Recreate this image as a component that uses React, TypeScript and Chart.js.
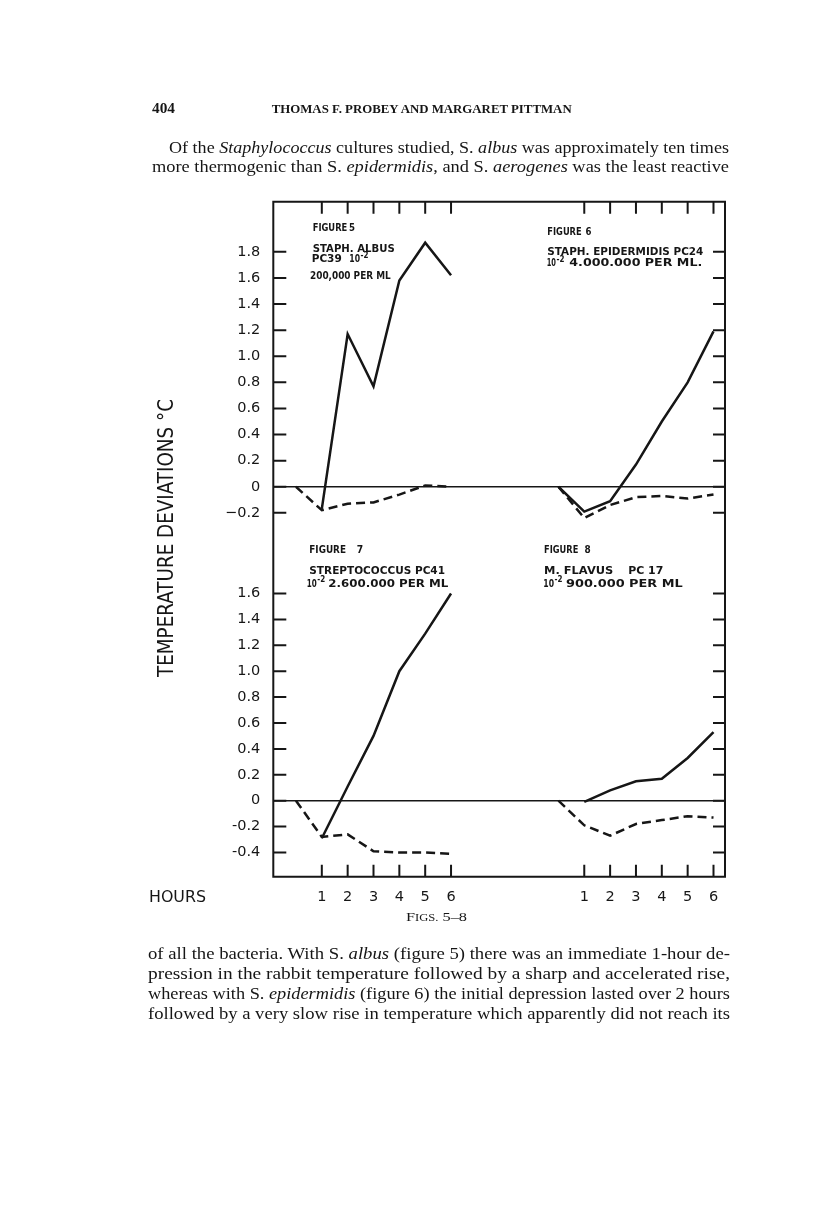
import React, { useEffect, useRef } from 'react';
import { Chart, registerables } from 'chart.js';

Chart.register(...registerables);

const INK = '#161616';

// ---- data (hours after injection, temperature deviation °C) ----
const HOURS = [0, 1, 2, 3, 4, 5, 6];
const TICK_HOURS = [1, 2, 3, 4, 5, 6];
const HOUR_LABELS = ['1', '2', '3', '4', '5', '6'];

// Figure 5 — Staph. albus PC39
const FIG5_SOLID = [null, -0.17, 1.17, 0.77, 1.58, 1.87, 1.62];
const FIG5_DASHED = [0, -0.18, -0.13, -0.12, -0.06, 0.01, 0.0];
// Figure 6 — Staph. epidermidis PC24
const FIG6_SOLID = [0, -0.19, -0.11, 0.17, 0.5, 0.8, 1.19];
const FIG6_DASHED = [0, -0.24, -0.14, -0.08, -0.07, -0.09, -0.06];
// Figure 7 — Streptococcus PC41
const FIG7_SOLID = [null, -0.29, 0.11, 0.5, 1.0, 1.29, 1.6];
const FIG7_DASHED = [0, -0.28, -0.26, -0.39, -0.4, -0.4, -0.41];
// Figure 8 — M. flavus PC17
const FIG8_SOLID = [null, -0.01, 0.08, 0.15, 0.17, 0.33, 0.53];
const FIG8_DASHED = [0, -0.19, -0.27, -0.18, -0.15, -0.12, -0.13];

const TOP_Y_TICKS = [-0.2, 0, 0.2, 0.4, 0.6, 0.8, 1.0, 1.2, 1.4, 1.6, 1.8];
const TOP_Y_LABELS = ['−0.2', '0', '0.2', '0.4', '0.6', '0.8', '1.0', '1.2', '1.4', '1.6', '1.8'];
const BOTTOM_Y_TICKS = [-0.4, -0.2, 0, 0.2, 0.4, 0.6, 0.8, 1.0, 1.2, 1.4, 1.6];
const BOTTOM_Y_LABELS = ['-0.4', '-0.2', '0', '0.2', '0.4', '0.6', '0.8', '1.0', '1.2', '1.4', '1.6'];

// ---- layout ----
const RIGHT_OFFSET = 10.155; // right-hand figures share the hour axis, shifted
const X_MIN = -0.877;
const X_MAX = 16.6;
const X_TICKS = [...TICK_HOURS, ...TICK_HOURS.map((h) => h + RIGHT_OFFSET)];
const X_TICK_LABELS = [...HOUR_LABELS, ...HOUR_LABELS];
const Y_AXIS_WIDTH = 73.3;

type Series = { values: (number | null)[]; dashed: boolean; right: boolean };

const TOP_PANEL = {
  box: { left: 200, top: 171, width: 540, height: 399 },
  padding: { top: 30.7, right: 15, bottom: 30, left: 0 },
  yMin: -0.408,
  yMax: 2.184,
  yTicks: TOP_Y_TICKS,
  yLabels: TOP_Y_LABELS,
  edge: 'top',
  xAxisHeight: 0,
  series: [
    { values: FIG5_SOLID, dashed: false, right: false },
    { values: FIG5_DASHED, dashed: true, right: false },
    { values: FIG6_SOLID, dashed: false, right: true },
    { values: FIG6_DASHED, dashed: true, right: true },
  ] as Series[],
};

const BOTTOM_PANEL = {
  box: { left: 200, top: 510, width: 540, height: 420 },
  padding: { top: 30, right: 15, bottom: 0, left: 0 },
  yMin: -0.587,
  yMax: 2.013,
  yTicks: BOTTOM_Y_TICKS,
  yLabels: BOTTOM_Y_LABELS,
  edge: 'bottom',
  xAxisHeight: 53.3,
  series: [
    { values: FIG7_SOLID, dashed: false, right: false },
    { values: FIG7_DASHED, dashed: true, right: false },
    { values: FIG8_SOLID, dashed: false, right: true },
    { values: FIG8_DASHED, dashed: true, right: true },
  ] as Series[],
};

function Panel(props: any) {
  const { box, padding, yMin, yMax, yTicks, yLabels, edge, xAxisHeight, series } = props;
  const ref = useRef<HTMLCanvasElement>(null);

  useEffect(() => {
    const canvas = ref.current;
    if (!canvas) return;
    const showX = edge === 'bottom';

    const frame = {
      id: 'frame',
      afterDatasetsDraw(chart: any) {
        const { ctx, chartArea: a, scales } = chart;
        ctx.save();
        ctx.strokeStyle = INK;
        ctx.lineWidth = 2;
        ctx.lineCap = 'butt';
        ctx.beginPath();
        if (edge === 'top') {
          ctx.moveTo(a.left, a.bottom);
          ctx.lineTo(a.left, a.top);
          ctx.lineTo(a.right, a.top);
          ctx.lineTo(a.right, a.bottom);
        } else {
          ctx.moveTo(a.left, a.top);
          ctx.lineTo(a.left, a.bottom);
          ctx.lineTo(a.right, a.bottom);
          ctx.lineTo(a.right, a.top);
        }
        for (const v of yTicks) {
          const py = scales.y.getPixelForValue(v);
          ctx.moveTo(a.left, py);
          ctx.lineTo(a.left + 13, py);
          ctx.moveTo(a.right, py);
          ctx.lineTo(a.right - 12, py);
        }
        const yEdge = edge === 'top' ? a.top : a.bottom;
        const dir = edge === 'top' ? 1 : -1;
        for (const v of X_TICKS) {
          const px = scales.x.getPixelForValue(v);
          ctx.moveTo(px, yEdge);
          ctx.lineTo(px, yEdge + dir * 12);
        }
        ctx.stroke();
        ctx.restore();
      },
    };

    const chart = new Chart(canvas, {
      type: 'line',
      data: {
        datasets: series.map((s: Series) => ({
          data: HOURS.map((h, i) => ({ x: h + (s.right ? RIGHT_OFFSET : 0), y: s.values[i] })),
          borderColor: INK,
          borderWidth: 2.5,
          borderDash: s.dashed ? [9, 5] : [],
          pointRadius: 0,
          tension: 0,
          fill: false,
          spanGaps: false,
        })),
      },
      options: {
        responsive: false,
        maintainAspectRatio: false,
        animation: false,
        events: [],
        layout: { padding },
        plugins: { legend: { display: false }, tooltip: { enabled: false } },
        scales: {
          x: {
            type: 'linear',
            min: X_MIN,
            max: X_MAX,
            display: showX,
            afterBuildTicks: (s: any) => {
              s.ticks = X_TICKS.map((v) => ({ value: v }));
            },
            afterFit: (s: any) => {
              if (showX) s.height = xAxisHeight;
            },
            grid: { display: false, drawTicks: false },
            border: { display: false },
            ticks: {
              autoSkip: false,
              maxRotation: 0,
              padding: 12,
              color: INK,
              font: { family: 'DejaVu Sans', size: 14.5 },
              callback: (_v: any, i: number) => X_TICK_LABELS[i],
            },
          },
          y: {
            type: 'linear',
            position: 'left',
            min: yMin,
            max: yMax,
            afterBuildTicks: (s: any) => {
              s.ticks = yTicks.map((v: number) => ({ value: v }));
            },
            afterFit: (s: any) => {
              s.width = Y_AXIS_WIDTH;
            },
            grid: {
              drawTicks: false,
              lineWidth: 1.6,
              color: (c: any) => (c.tick && c.tick.value === 0 ? INK : 'rgba(0,0,0,0)'),
            },
            border: { display: false },
            ticks: {
              padding: 13,
              color: INK,
              font: { family: 'DejaVu Sans', size: 14.5 },
              callback: (_v: any, i: number) => yLabels[i],
            },
          },
        },
      },
      plugins: [frame],
    } as any);
    return () => chart.destroy();
  }, []);

  return (
    <canvas
      ref={ref}
      width={box.width}
      height={box.height}
      style={{ position: 'absolute', left: box.left, top: box.top, width: box.width, height: box.height, display: 'block' }}
    />
  );
}

const SERIF = "'Liberation Serif', 'DejaVu Serif', serif";
const SANS = "'DejaVu Sans', 'Liberation Sans', sans-serif";

function T(p: any) {
  const { x, y, w, size, family, weight, children, italic } = p;
  return (
    <text
      x={x}
      y={y}
      textLength={w}
      lengthAdjust="spacingAndGlyphs"
      fontFamily={family || SANS}
      fontSize={size || 11}
      fontWeight={weight || 'bold'}
      fontStyle={italic ? 'italic' : 'normal'}
      fill={INK}
    >
      {children}
    </text>
  );
}

function Body({ x, y, w, children }: any) {
  return (
    <T x={x} y={y} w={w} size={16.5} family={SERIF} weight="normal">
      {children}
    </T>
  );
}

const I = ({ children }: any) => <tspan fontStyle="italic">{children}</tspan>;

function PageText() {
  return (
    <svg
      width={816}
      height={1222}
      style={{ position: 'absolute', left: 0, top: 0, pointerEvents: 'none' }}
    >
      {/* running head */}
      <T x={152} y={113} w={23} size={15} family={SERIF} weight="bold">404</T>
      <T x={271.7} y={112.7} w={300} size={11.5} family={SERIF} weight="bold">
        THOMAS F. PROBEY AND MARGARET PITTMAN
      </T>

      {/* paragraph above */}
      <Body x={169} y={152.7} w={560}>
        Of the <I>Staphylococcus</I> cultures studied, S. <I>albus</I> was approximately ten times
      </Body>
      <Body x={152} y={171.7} w={577}>
        more thermogenic than S. <I>epidermidis</I>, and S. <I>aerogenes</I> was the least reactive
      </Body>

      {/* figure 5 */}
      <T x={312.7} y={231} w={34.6}>FIGURE</T>
      <T x={349} y={231} w={6}>5</T>
      <T x={312.7} y={251.7} w={82}>STAPH. ALBUS</T>
      <T x={311.7} y={262} w={30}>PC39</T>
      <T x={349.3} y={262} w={10.7}>10</T>
      <T x={360.5} y={257.5} w={8} size={8.5}>-2</T>
      <T x={310} y={279.3} w={80.7}>200,000 PER ML</T>

      {/* figure 6 */}
      <T x={547.3} y={234.8} w={34.4}>FIGURE</T>
      <T x={585.5} y={234.8} w={6}>6</T>
      <T x={547.3} y={255} w={156}>STAPH. EPIDERMIDIS PC24</T>
      <T x={546.7} y={266.3} w={9.3}>10</T>
      <T x={556.5} y={261.5} w={8} size={8.5}>-2</T>
      <T x={569.3} y={266.3} w={133}>4.000.000 PER ML.</T>

      {/* figure 7 */}
      <T x={309.3} y={552.8} w={36.7}>FIGURE</T>
      <T x={356.7} y={552.8} w={6.4}>7</T>
      <T x={309.3} y={573.5} w={135.7}>STREPTOCOCCUS PC41</T>
      <T x={306.7} y={586.8} w={10}>10</T>
      <T x={317.3} y={582} w={8} size={8.5}>-2</T>
      <T x={328.3} y={586.8} w={120}>2.600.000 PER ML</T>

      {/* figure 8 */}
      <T x={544} y={553.4} w={34.3}>FIGURE</T>
      <T x={584.5} y={553.4} w={6.2}>8</T>
      <T x={544} y={573.5} w={69.3}>M. FLAVUS</T>
      <T x={628.3} y={573.5} w={35}>PC 17</T>
      <T x={543.3} y={586.8} w={10.7}>10</T>
      <T x={554.5} y={582} w={8} size={8.5}>-2</T>
      <T x={566} y={586.8} w={116.7}>900.000 PER ML</T>

      {/* axis title */}
      <text
        transform="translate(173 538) rotate(-90)"
        x={0}
        y={0}
        textAnchor="middle"
        textLength={278}
        lengthAdjust="spacingAndGlyphs"
        fontFamily={SANS}
        fontSize={21}
        fill={INK}
      >
        TEMPERATURE DEVIATIONS °C
      </text>

      <T x={149} y={902} w={57} size={15} weight="normal">HOURS</T>

      {/* caption */}
      <text x={406} y={921} textLength={61} lengthAdjust="spacingAndGlyphs" fontFamily={SERIF} fill={INK}>
        <tspan fontSize={13}>F</tspan>
        <tspan fontSize={10}>IGS.</tspan>
        <tspan fontSize={13}> 5–8</tspan>
      </text>

      {/* paragraph below */}
      <Body x={148} y={959} w={582}>
        of all the bacteria.  With S. <I>albus</I> (figure 5) there was an immediate 1-hour de-
      </Body>
      <Body x={148} y={978.7} w={582}>
        pression in the rabbit temperature followed by a sharp and accelerated rise,
      </Body>
      <Body x={148} y={998.6} w={582}>
        whereas with S. <I>epidermidis</I> (figure 6) the initial depression lasted over 2 hours
      </Body>
      <Body x={148} y={1018.6} w={582}>
        followed by a very slow rise in temperature which apparently did not reach its
      </Body>
    </svg>
  );
}

export default function App() {
  return (
    <div
      style={{
        position: 'absolute',
        left: 0,
        top: 0,
        width: 816,
        height: 1222,
        background: '#ffffff',
        overflow: 'hidden',
      }}
    >
      <Panel {...TOP_PANEL} />
      <Panel {...BOTTOM_PANEL} />
      <PageText />
    </div>
  );
}
